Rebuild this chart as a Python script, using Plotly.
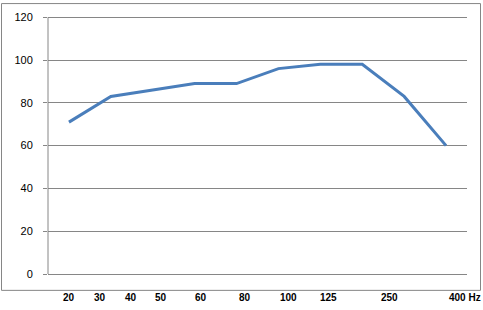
import plotly.graph_objects as go

# Data
point_index = [0, 1, 2, 3, 4, 5, 6, 7, 8, 9]
values = [71, 83, 86, 89, 89, 96, 98, 98, 83, 60]
freq_labels = ["20", "30", "40", "50", "60", "80", "100", "125", "250", "400 Hz"]
y_ticks = [0, 20, 40, 60, 80, 100, 120]

# Layout: label positions along the x axis (in axis units), matching the reference text row
label_pos = [0.0, 0.74, 1.48, 2.19, 3.14, 4.2, 5.23, 6.2, 7.66, 9.45]

W, H = 483, 310
L, R, T, B = 48, 16, 11, 36
pw, ph = W - L - R, H - T - B

def px_x(p):
    return (p - L) / pw

def px_y(p):
    return (H - B - p) / ph

fig = go.Figure()
fig.add_trace(go.Scatter(
    x=point_index, y=values, mode="lines",
    line=dict(color="#4A7EBB", width=3), showlegend=False, hoverinfo="skip",
))

annotations = []
for lab, pos in zip(freq_labels, label_pos):
    annotations.append(dict(
        x=pos, xref="x", y=px_y(298), yref="paper", text=lab, showarrow=False,
        xanchor="center", yanchor="middle",
        font=dict(family="Liberation Sans", size=10, color="#000000", weight="bold"),
    ))

fig.update_layout(
    width=W, height=H, margin=dict(l=L, r=R, t=T, b=B),
    paper_bgcolor="white", plot_bgcolor="white",
    xaxis=dict(range=[-0.5, 9.5], showticklabels=False, showgrid=False, zeroline=False,
               showline=True, linecolor="#868686", linewidth=1, ticks=""),
    yaxis=dict(range=[0, 122], tickvals=y_ticks, showgrid=True, gridcolor="#868686", gridwidth=1,
               zeroline=False, showline=False, linecolor="#868686", linewidth=1,
               ticks="outside", ticklen=4, tickcolor="#868686", ticklabelstandoff=8,
               tickfont=dict(family="Liberation Sans", size=11, color="#000000")),
    annotations=annotations,
    shapes=[
        dict(type="rect", xref="paper", yref="paper",
             x0=px_x(1.5), x1=px_x(480.5), y0=px_y(290.5), y1=px_y(1.5),
             line=dict(color="#868686", width=1), fillcolor="rgba(0,0,0,0)", layer="below"),
        dict(type="line", xref="paper", yref="y", x0=0, x1=0, y0=0, y1=120,
             line=dict(color="#868686", width=1), layer="below"),
    ],
)

fig.write_html("out.html")
